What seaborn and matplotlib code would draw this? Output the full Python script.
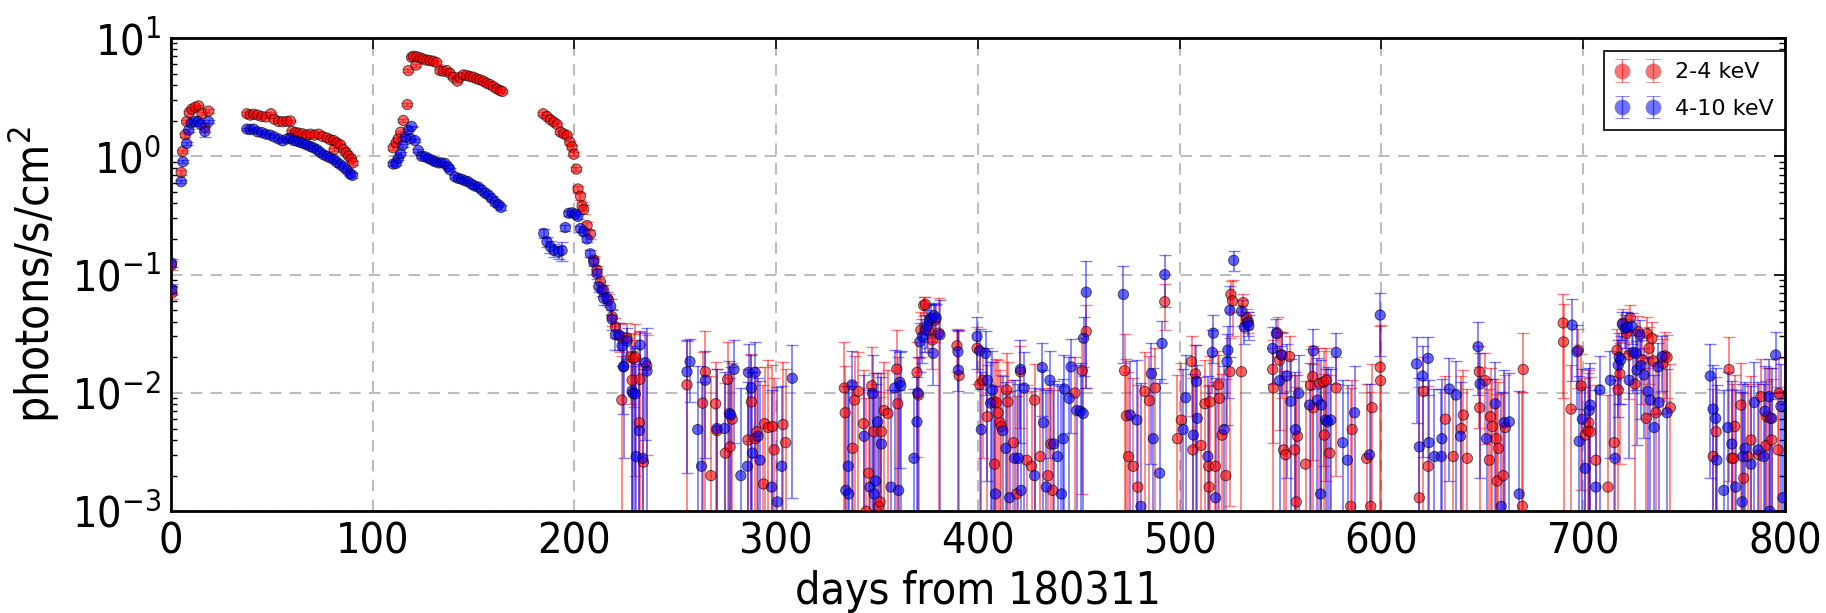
import numpy as np
import pandas as pd
import matplotlib
matplotlib.use("Agg")
import matplotlib.pyplot as plt
from matplotlib.font_manager import FontProperties
import seaborn as sns

# ---------------- 2-4 keV band ----------------
soft_days = [
    # first outburst
    0.3, 0.5, 5.1, 5.8, 7.1, 7.8, 9.1, 10.4, 12.1, 13.7, 15.4, 16.8, 18.7,
    # second outburst
    37.7, 39.3, 41.0, 43.0, 45.0, 47.0, 49.6, 51.2, 53.4, 55.4,
    57.5, 59.2, 60.0, 61.7, 63.3, 65.3, 67.4, 69.1, 71.2, 73.2,
    75.2, 77.4, 79.0, 80.7, 80.9, 82.3, 84.0, 85.6, 86.9, 88.1,
    89.4, 90.2,
    # third outburst
    110.2, 111.6, 112.7, 113.9, 115.2, 117.2, 117.7, 119.3, 120.2, 121.5,
    121.8, 123.5, 125.1, 126.8, 128.4, 130.1, 131.7, 133.4, 135.0, 136.7,
    138.3, 140.0, 142.0, 143.3, 145.0, 146.6, 148.3, 149.9, 151.6, 153.2,
    154.9, 156.5, 158.2, 159.8, 161.5, 163.1, 164.3,
    # fourth outburst and decay
    184.5, 186.4, 188.1, 189.8, 191.4, 193.1, 194.7, 196.4, 197.7, 198.8,
    199.7, 201.0, 201.8, 203.0, 203.8, 204.6, 206.3, 207.9, 209.6, 211.2,
    212.9, 214.5, 217.0, 218.7, 220.3, 222.8, 223.5, 226.1, 227.8, 228.6,
    229.3, 230.2, 232.2, 232.4, 234.2, 235.9,
    # faint episodes
    255.8, 263.6, 264.9, 267.7, 270.0, 270.6, 274.8, 275.9, 277.2, 278.2,
    286.0, 287.7, 289.6, 290.5, 293.7, 294.3, 296.2, 298.1, 299.0, 303.4, 304.7,
    333.8, 334.2, 337.9, 338.9, 340.8, 343.3, 344.6, 345.9, 347.4, 348.4,
    350.9, 351.5, 352.2, 353.5, 355.4, 359.8, 360.3,
    369.8, 370.6, 371.7, 373.1, 374.0, 375.5, 377.4, 378.7, 380.6, 389.6, 390.7,
    399.6, 400.9, 402.5, 404.7, 407.8, 408.2, 409.1, 410.0, 411.0, 411.6,
    414.2, 414.8, 417.6, 419.2, 421.1, 424.2, 426.6, 428.1, 430.9, 434.7,
    436.2, 437.0, 448.1, 451.8, 453.7,
    472.7, 473.6, 474.6, 477.0, 479.3, 482.7, 485.0, 487.9, 492.6,
    498.9, 500.8, 505.9, 506.5, 507.8, 510.6, 512.5, 514.4, 514.6, 515.0,
    517.7, 519.2, 519.7, 521.0, 522.9, 524.9, 525.4, 526.2, 530.6, 531.5,
    533.3, 534.0,
    546.1, 546.5, 548.5, 549.5, 550.5, 551.5, 552.5, 554.5, 557.0, 557.8,
    558.4, 562.4, 564.9, 565.9, 566.3, 569.3, 571.3, 571.7, 572.6, 574.3,
    577.6, 584.8, 585.5, 592.7, 594.7, 595.4, 599.4, 599.6,
    618.8, 620.8, 623.2, 631.7, 635.6, 639.6, 640.6, 642.6, 648.5, 648.7,
    651.5, 653.5, 654.1, 655.0, 656.8, 657.4, 658.0, 660.4, 661.4, 669.9, 670.3,
    690.1, 690.3, 694.0, 697.6, 699.0, 701.0, 702.4, 702.8, 703.6, 706.3,
    712.3, 715.4, 716.8, 717.4, 718.2, 719.8, 721.4, 722.8, 723.4, 725.7,
    727.3, 729.3, 731.3, 731.7, 732.7, 734.1, 734.7, 736.0, 739.6, 740.6,
    741.6, 743.2,
    764.4, 765.9, 772.3, 773.7, 774.5, 775.2, 778.2, 779.6, 781.6, 783.2,
    787.1, 788.1, 790.7, 791.1, 792.8, 793.5, 796.6, 797.0,
]
soft_flux = [
    0.12, 0.07, 0.73, 1.10, 1.52, 1.97, 2.35, 2.51, 2.60, 2.67, 2.29, 1.75, 2.41,
    2.29, 2.23, 2.27, 2.23, 2.17, 2.15, 2.29, 2.06, 1.97, 1.96,
    1.97, 1.99, 1.62, 1.59, 1.57, 1.55, 1.51, 1.54, 1.51, 1.54,
    1.47, 1.43, 1.38, 1.36, 1.14, 1.30, 1.25, 1.14, 1.07, 1.01,
    0.95, 0.88,
    1.18, 1.30, 1.41, 1.60, 2.01, 2.74, 5.30, 6.87, 7.00, 5.90,
    6.95, 6.80, 6.64, 6.50, 6.44, 6.36, 6.20, 5.30, 5.24, 5.30,
    5.03, 4.66, 4.32, 4.66, 4.88, 4.82, 4.72, 4.66, 4.52, 4.43,
    4.32, 4.15, 4.04, 3.89, 3.72, 3.60, 3.53,
    2.29, 2.17, 2.04, 1.95, 1.86, 1.60, 1.55, 1.50, 1.32, 1.20,
    1.04, 0.78, 0.53, 0.46, 0.38, 0.355, 0.26, 0.22, 0.133, 0.109,
    0.087, 0.074, 0.061, 0.044, 0.036, 0.030, 0.0087, 0.029, 0.020, 0.0128,
    0.0196, 0.020, 0.0056, 0.013, 0.0026, 0.017,
    0.0117, 0.0082, 0.0151, 0.0020, 0.0081, 0.0048, 0.0031, 0.0130, 0.0035, 0.0060,
    0.0040, 0.0084, 0.0041, 0.0047, 0.0017, 0.0055, 0.0051, 0.0052, 0.0033, 0.0054, 0.0038,
    0.0110, 0.0068, 0.0034, 0.0087, 0.0103, 0.0055, 0.0010, 0.0021, 0.0115, 0.0047,
    0.0011, 0.0012, 0.0047, 0.0071, 0.0067, 0.0159, 0.0081,
    0.0149, 0.0096, 0.034, 0.055, 0.056, 0.034, 0.028, 0.041, 0.032, 0.025, 0.014,
    0.0238, 0.0118, 0.0128, 0.0063, 0.0084, 0.0025, 0.0083, 0.0068, 0.0056, 0.0052,
    0.0106, 0.0084, 0.0038, 0.0014, 0.0151, 0.0027, 0.0024, 0.0087, 0.0029, 0.0020,
    0.0037, 0.0015, 0.0100, 0.0154, 0.0330,
    0.0154, 0.0064, 0.0029, 0.0024, 0.0016, 0.0103, 0.0086, 0.0110, 0.059,
    0.0041, 0.0059, 0.0184, 0.0033, 0.0145, 0.0036, 0.0081, 0.0024, 0.0016, 0.0084,
    0.0024, 0.0117, 0.0090, 0.0044, 0.0020, 0.0151, 0.068, 0.060, 0.0151, 0.058,
    0.043, 0.040,
    0.0158, 0.0110, 0.0320, 0.0189, 0.0210, 0.0033, 0.0030, 0.0203, 0.0033, 0.0012,
    0.0043, 0.0025, 0.0116, 0.0137, 0.0075, 0.0120, 0.0124, 0.0044, 0.0128, 0.0031,
    0.0110, 0.0011, 0.0049, 0.0028, 0.0011, 0.0075, 0.0165, 0.0127,
    0.0013, 0.0103, 0.0024, 0.0060, 0.0029, 0.0050, 0.0065, 0.0028, 0.0151, 0.0075,
    0.0127, 0.0027, 0.0063, 0.0052, 0.0041, 0.0018, 0.0034, 0.0020, 0.0051, 0.0011, 0.0158,
    0.039, 0.027, 0.0073, 0.023, 0.0115, 0.0044, 0.0048, 0.0056, 0.0047, 0.0027,
    0.0016, 0.0038, 0.023, 0.0106, 0.0145, 0.039, 0.0318, 0.0209, 0.043, 0.0119,
    0.033, 0.019, 0.0061, 0.0318, 0.0238, 0.029, 0.0187, 0.0068, 0.0178, 0.0206,
    0.020, 0.0075,
    0.0029, 0.0047, 0.0158, 0.0028, 0.0028, 0.0052, 0.0079, 0.0019, 0.0029, 0.0040,
    0.0030, 0.0093, 0.0036, 0.0063, 0.0061, 0.0040, 0.0033, 0.0099,
]
soft_err = [
    0.010, 0.008, 0.03, 0.04, 0.05, 0.05, 0.06, 0.07, 0.07, 0.07, 0.06, 0.15, 0.08,
    0.06, 0.06, 0.06, 0.06, 0.06, 0.06, 0.06, 0.06, 0.05, 0.05,
    0.05, 0.05, 0.05, 0.05, 0.05, 0.05, 0.05, 0.05, 0.05, 0.05,
    0.05, 0.05, 0.04, 0.04, 0.04, 0.04, 0.04, 0.04, 0.04, 0.04,
    0.04, 0.04,
    0.04, 0.04, 0.05, 0.05, 0.06, 0.08, 0.15, 0.20, 0.20, 0.18,
    0.20, 0.20, 0.20, 0.20, 0.20, 0.20, 0.20, 0.20, 0.20, 0.20,
    0.15, 0.15, 0.15, 0.15, 0.15, 0.15, 0.15, 0.15, 0.15, 0.15,
    0.12, 0.12, 0.12, 0.12, 0.12, 0.12, 0.12,
    0.06, 0.06, 0.06, 0.05, 0.05, 0.05, 0.05, 0.05, 0.04, 0.04,
    0.04, 0.03, 0.03, 0.03, 0.03, 0.03, 0.02, 0.02, 0.012, 0.010,
    0.010, 0.008, 0.008, 0.007, 0.007, 0.008, 0.012, 0.010, 0.012, 0.015,
    0.012, 0.018, 0.012, 0.020, 0.012, 0.014,
    0.016, 0.014, 0.018, 0.012, 0.010, 0.011, 0.009, 0.014, 0.010, 0.012,
    0.012, 0.013, 0.011, 0.012, 0.010, 0.011, 0.014, 0.012, 0.010, 0.013, 0.012,
    0.016, 0.010, 0.009, 0.012, 0.012, 0.010, 0.008, 0.009, 0.013, 0.010,
    0.009, 0.008, 0.010, 0.011, 0.009, 0.018, 0.012,
    0.012, 0.010, 0.014, 0.010, 0.009, 0.012, 0.012, 0.014, 0.031, 0.010, 0.020,
    0.012, 0.012, 0.010, 0.011, 0.010, 0.009, 0.011, 0.012, 0.010, 0.009,
    0.011, 0.010, 0.009, 0.008, 0.010, 0.009, 0.008, 0.009, 0.008, 0.009,
    0.008, 0.009, 0.010, 0.014, 0.022,
    0.016, 0.013, 0.012, 0.011, 0.010, 0.012, 0.012, 0.013, 0.025,
    0.010, 0.012, 0.012, 0.010, 0.011, 0.010, 0.011, 0.009, 0.010, 0.012,
    0.010, 0.011, 0.012, 0.010, 0.011, 0.014, 0.020, 0.030, 0.040, 0.010,
    0.008, 0.008,
    0.012, 0.013, 0.012, 0.014, 0.012, 0.012, 0.011, 0.010, 0.011, 0.010,
    0.010, 0.010, 0.012, 0.011, 0.010, 0.012, 0.010, 0.010, 0.011, 0.011,
    0.009, 0.010, 0.008, 0.009, 0.009, 0.010, 0.020, 0.025,
    0.010, 0.010, 0.009, 0.008, 0.008, 0.009, 0.009, 0.008, 0.010, 0.009,
    0.009, 0.008, 0.010, 0.008, 0.009, 0.008, 0.009, 0.008, 0.009, 0.009, 0.016,
    0.030, 0.030, 0.010, 0.012, 0.010, 0.009, 0.010, 0.010, 0.009, 0.009,
    0.008, 0.010, 0.012, 0.011, 0.012, 0.012, 0.010, 0.012, 0.012, 0.011,
    0.012, 0.011, 0.010, 0.012, 0.012, 0.011, 0.012, 0.010, 0.011, 0.012,
    0.011, 0.010,
    0.008, 0.009, 0.014, 0.008, 0.009, 0.009, 0.010, 0.008, 0.009, 0.010,
    0.009, 0.010, 0.009, 0.010, 0.010, 0.009, 0.008, 0.010,
]

# ---------------- 4-10 keV band ----------------
hard_days = [
    0.3, 0.5, 5.1, 6.0, 7.8, 8.8, 10.1, 11.7, 13.4, 14.7, 16.8, 18.7,
    37.7, 39.3, 41.0, 43.0, 45.0, 47.0, 49.3, 51.2, 53.4, 55.4,
    57.5, 59.2, 60.8, 62.5, 64.1, 65.8, 67.4, 69.1, 70.7, 72.4,
    74.0, 75.7, 77.4, 79.0, 80.7, 82.3, 84.0, 85.6, 87.3, 88.9,
    90.0,
    110.2, 111.6, 112.7, 113.9, 114.9, 116.2, 117.7, 118.8, 119.3, 121.0,
    122.6, 124.3, 126.0, 127.6, 129.3, 130.9, 132.6, 134.2, 135.9, 137.5,
    138.3, 140.8, 142.5, 144.1, 145.8, 147.4, 149.1, 150.7, 152.4, 154.0,
    155.7, 157.4, 159.0, 160.7, 162.3, 163.6,
    184.8, 186.4, 188.1, 189.8, 192.2, 193.9, 195.5, 197.2, 198.8, 200.5,
    201.7, 203.0, 204.6, 206.3, 207.9, 209.6, 211.2, 212.1, 213.7, 214.5,
    216.2, 218.0, 218.7, 220.3, 222.0, 223.6, 224.3, 224.5, 226.1, 228.6,
    229.0, 230.2, 230.6, 232.2, 232.6, 233.9, 235.2, 236.0,
    255.8, 257.3, 261.1, 263.0, 264.9, 270.6, 274.4, 276.8, 277.5, 279.1,
    282.5, 285.8, 286.3, 287.7, 288.2, 289.6, 291.0, 292.0, 297.7, 300.6,
    302.8, 308.0,
    334.5, 335.7, 336.0, 337.6, 343.6, 346.5, 347.8, 348.6, 349.3, 350.3,
    352.2, 356.9, 358.8, 360.7, 361.3, 361.8,
    368.3, 369.8, 370.2, 371.2, 372.5, 374.0, 375.0, 375.9, 376.9, 377.8,
    378.2, 379.3, 381.2, 390.1, 390.3,
    399.6, 400.9, 401.7, 403.8, 404.7, 406.3, 407.2, 408.7, 412.3, 413.9,
    415.7, 418.2, 420.1, 421.1, 421.4, 422.9, 428.1, 431.9, 432.5, 433.9,
    435.7, 437.6, 439.5, 441.4, 442.3, 442.9, 445.2, 446.2, 449.0, 450.9,
    452.2, 452.4, 453.7,
    472.1, 475.5, 478.8, 480.8, 486.0, 486.9, 490.1, 491.3, 492.6,
    501.7, 503.0, 506.8, 508.3, 508.7, 514.0, 516.2, 516.7, 517.8, 522.0,
    523.5, 523.9, 524.9, 526.8, 530.7, 532.1, 533.7, 534.3,
    546.1, 547.9, 549.5, 550.5, 553.1, 555.1, 557.4, 559.0, 564.4, 566.3,
    568.3, 569.9, 570.3, 572.3, 573.3, 574.9, 577.6, 580.8, 583.2, 586.7,
    594.1, 599.4,
    617.4, 618.8, 620.4, 623.2, 623.6, 626.3, 629.7, 630.0, 633.7, 637.0,
    639.2, 647.9, 648.9, 652.1, 656.4, 659.4, 660.8, 663.4, 668.3,
    694.5, 697.0, 698.0, 699.6, 701.0, 703.0, 703.6, 706.3, 708.3, 713.5,
    715.8, 717.4, 717.8, 718.6, 719.4, 720.8, 721.8, 722.8, 724.2, 724.8,
    726.1, 726.7, 728.1, 728.7, 730.1, 732.1, 733.3, 735.2, 737.2, 737.6,
    739.2, 741.6,
    763.0, 764.4, 765.7, 766.3, 769.7, 771.7, 773.7, 775.6, 778.8, 779.2,
    780.2, 783.2, 784.8, 786.7, 789.5, 790.1, 792.1, 792.5, 793.5, 795.4,
    798.0, 799.0,
]
hard_flux = [
    0.125, 0.075, 0.61, 0.90, 1.28, 1.66, 1.91, 1.97, 1.97, 1.85, 1.62, 1.97,
    1.70, 1.68, 1.70, 1.61, 1.59, 1.54, 1.51, 1.46, 1.40, 1.35,
    1.40, 1.42, 1.36, 1.34, 1.31, 1.28, 1.25, 1.21, 1.18, 1.14,
    1.08, 1.03, 1.00, 0.97, 0.94, 0.89, 0.85, 0.81, 0.76, 0.71,
    0.69,
    0.86, 0.87, 0.96, 1.05, 1.24, 1.45, 1.66, 1.41, 1.79, 1.36,
    1.12, 1.00, 0.99, 0.96, 0.93, 0.90, 0.88, 0.88, 0.87, 0.81,
    0.77, 0.67, 0.65, 0.64, 0.62, 0.61, 0.58, 0.56, 0.55, 0.52,
    0.49, 0.47, 0.44, 0.41, 0.39, 0.37,
    0.223, 0.19, 0.172, 0.16, 0.156, 0.16, 0.25, 0.33, 0.333, 0.325,
    0.31, 0.245, 0.23, 0.20, 0.15, 0.128, 0.102, 0.079, 0.074, 0.063,
    0.063, 0.054, 0.042, 0.031, 0.031, 0.025, 0.0166, 0.0168, 0.0275, 0.0104,
    0.0099, 0.0098, 0.0029, 0.0048, 0.0254, 0.0028, 0.018, 0.0153,
    0.0151, 0.0184, 0.0049, 0.0024, 0.0128, 0.0050, 0.0050, 0.0067, 0.0065, 0.0158,
    0.0020, 0.0024, 0.0149, 0.0110, 0.0031, 0.0149, 0.0043, 0.0027, 0.0016, 0.0012,
    0.0024, 0.0133,
    0.0015, 0.0024, 0.0014, 0.0117, 0.0043, 0.0016, 0.0099, 0.0014, 0.0018, 0.0057,
    0.0037, 0.0016, 0.0110, 0.0015, 0.0123, 0.0115,
    0.0028, 0.0057, 0.0100, 0.027, 0.030, 0.034, 0.037, 0.041, 0.043, 0.0216,
    0.045, 0.043, 0.031, 0.0223, 0.0156,
    0.030, 0.0227, 0.0049, 0.0216, 0.0128, 0.0082, 0.0106, 0.0014, 0.0048, 0.0034,
    0.0013, 0.0028, 0.0028, 0.0158, 0.0015, 0.0110, 0.0020, 0.0164, 0.0056, 0.0016,
    0.0128, 0.0037, 0.0029, 0.0014, 0.0041, 0.0108, 0.0090, 0.0166, 0.0071, 0.0070,
    0.0067, 0.029, 0.071,
    0.068, 0.0065, 0.0059, 0.0011, 0.0145, 0.0041, 0.0021, 0.0262, 0.100,
    0.0049, 0.0091, 0.0044, 0.0125, 0.0061, 0.0029, 0.022, 0.032, 0.0013, 0.0049,
    0.0184, 0.023, 0.050, 0.132, 0.049, 0.036, 0.039, 0.037,
    0.0238, 0.0318, 0.0127, 0.0209, 0.0139, 0.0085, 0.0049, 0.0099, 0.0079, 0.0227,
    0.0087, 0.0014, 0.0079, 0.0059, 0.0057, 0.0059, 0.0220, 0.0038, 0.0027, 0.0068,
    0.0030, 0.0455,
    0.0176, 0.0035, 0.0139, 0.0196, 0.0038, 0.0029, 0.0029, 0.0041, 0.0108, 0.0096,
    0.0043, 0.0246, 0.0119, 0.0041, 0.0081, 0.0011, 0.0056, 0.0057, 0.0014,
    0.0375, 0.0223, 0.0039, 0.0060, 0.0023, 0.0071, 0.0079, 0.0016, 0.0106, 0.0128,
    0.0028, 0.0172, 0.0200, 0.0190, 0.0380, 0.0350, 0.0360, 0.0128, 0.0367, 0.0220,
    0.0216, 0.0156, 0.0310, 0.0170, 0.0142, 0.0103, 0.0087, 0.0051, 0.0166, 0.0083,
    0.0203, 0.0068,
    0.0139, 0.0073, 0.0061, 0.0027, 0.0015, 0.0051, 0.0037, 0.0016, 0.0012, 0.0029,
    0.0034, 0.0025, 0.0083, 0.0033, 0.0029, 0.0070, 0.0093, 0.0010, 0.0061, 0.0209,
    0.0077, 0.0013,
]
hard_err = [
    0.010, 0.008, 0.02, 0.03, 0.04, 0.05, 0.05, 0.05, 0.05, 0.05, 0.15, 0.06,
    0.04, 0.04, 0.04, 0.04, 0.04, 0.04, 0.04, 0.04, 0.04, 0.04,
    0.04, 0.04, 0.04, 0.04, 0.04, 0.04, 0.04, 0.04, 0.04, 0.04,
    0.03, 0.03, 0.03, 0.03, 0.03, 0.03, 0.03, 0.03, 0.03, 0.03,
    0.03,
    0.03, 0.03, 0.03, 0.03, 0.03, 0.03, 0.03, 0.03, 0.03, 0.03,
    0.03, 0.03, 0.03, 0.03, 0.03, 0.03, 0.03, 0.03, 0.03, 0.03,
    0.02, 0.02, 0.02, 0.02, 0.02, 0.02, 0.02, 0.02, 0.02, 0.02,
    0.02, 0.02, 0.02, 0.02, 0.02, 0.02,
    0.020, 0.020, 0.020, 0.020, 0.020, 0.030, 0.015, 0.015, 0.015, 0.015,
    0.015, 0.015, 0.015, 0.012, 0.010, 0.010, 0.010, 0.008, 0.008, 0.008,
    0.008, 0.008, 0.008, 0.008, 0.008, 0.008, 0.010, 0.014, 0.008, 0.012,
    0.015, 0.014, 0.014, 0.015, 0.008, 0.013, 0.014, 0.020,
    0.013, 0.010, 0.012, 0.010, 0.010, 0.011, 0.010, 0.012, 0.010, 0.012,
    0.009, 0.010, 0.011, 0.010, 0.012, 0.012, 0.009, 0.010, 0.009, 0.010,
    0.009, 0.012,
    0.010, 0.009, 0.010, 0.011, 0.010, 0.009, 0.011, 0.009, 0.010, 0.009,
    0.010, 0.009, 0.012, 0.009, 0.010, 0.011,
    0.008, 0.008, 0.010, 0.012, 0.012, 0.012, 0.013, 0.014, 0.014, 0.010,
    0.013, 0.013, 0.030, 0.012, 0.018,
    0.014, 0.012, 0.010, 0.012, 0.011, 0.010, 0.012, 0.010, 0.009, 0.009,
    0.009, 0.010, 0.009, 0.012, 0.009, 0.011, 0.009, 0.010, 0.010, 0.009,
    0.010, 0.009, 0.009, 0.010, 0.009, 0.010, 0.011, 0.012, 0.010, 0.011,
    0.010, 0.015, 0.060,
    0.050, 0.012, 0.013, 0.011, 0.012, 0.012, 0.011, 0.014, 0.047,
    0.011, 0.012, 0.010, 0.013, 0.011, 0.011, 0.012, 0.014, 0.012, 0.012,
    0.013, 0.014, 0.030, 0.025, 0.012, 0.010, 0.009, 0.009,
    0.012, 0.010, 0.012, 0.011, 0.012, 0.011, 0.010, 0.011, 0.010, 0.012,
    0.011, 0.010, 0.011, 0.010, 0.011, 0.010, 0.010, 0.009, 0.009, 0.010,
    0.009, 0.025,
    0.012, 0.010, 0.011, 0.010, 0.009, 0.008, 0.008, 0.009, 0.009, 0.009,
    0.008, 0.015, 0.010, 0.009, 0.010, 0.009, 0.010, 0.009, 0.009,
    0.025, 0.015, 0.010, 0.010, 0.009, 0.009, 0.010, 0.009, 0.010, 0.010,
    0.010, 0.011, 0.012, 0.011, 0.010, 0.011, 0.012, 0.010, 0.011, 0.012,
    0.011, 0.012, 0.010, 0.011, 0.010, 0.010, 0.011, 0.009, 0.010, 0.010,
    0.010, 0.009,
    0.012, 0.010, 0.010, 0.009, 0.009, 0.010, 0.009, 0.009, 0.009, 0.009,
    0.009, 0.009, 0.010, 0.009, 0.009, 0.010, 0.010, 0.009, 0.010, 0.012,
    0.010, 0.009,
]

band_labels = ["2-4 keV", "4-10 keV"]
band_colors = {"2-4 keV": "red", "4-10 keV": "blue"}
x_ticks = [0, 100, 200, 300, 400, 500, 600, 700, 800]

sns.set_style("white")
plt.rcParams["font.family"] = ["DejaVu Sans"]
plt.rcParams["font.stretch"] = "condensed"
plt.rcParams["mathtext.fontset"] = "dejavusans"
for key in ("text.color", "axes.labelcolor", "xtick.color", "ytick.color",
            "axes.edgecolor"):
    plt.rcParams[key] = "black"

frames = []
for lab, d, f, e in [(band_labels[0], soft_days, soft_flux, soft_err),
                     (band_labels[1], hard_days, hard_flux, hard_err)]:
    frames.append(pd.DataFrame({"day": d, "flux": f, "err": e, "band": lab}))
df = pd.concat(frames, ignore_index=True)

fig = plt.figure(figsize=(18.26, 6.13), dpi=100)
ax = fig.add_axes([0.0936, 0.166, 0.8839, 0.772])
ax.set_yscale("log", nonpositive="clip")

# error bars first, markers on top
for lab in band_labels:
    sub = df[df["band"] == lab]
    ax.errorbar(sub["day"], sub["flux"], yerr=sub["err"], fmt="none",
                ecolor=band_colors[lab], elinewidth=1.3, capsize=4,
                capthick=1.0, alpha=0.5, zorder=2)

sns.scatterplot(data=df, x="day", y="flux", hue="band", palette=band_colors,
                hue_order=band_labels, s=55, alpha=0.6, edgecolor="black",
                linewidth=0.7, legend=False, ax=ax, zorder=3)

# legend entries in the errorbar style, two points each
handles = []
for lab in band_labels:
    h = ax.errorbar([np.nan], [np.nan], yerr=[np.nan], fmt="o",
                    color=band_colors[lab], ecolor=band_colors[lab],
                    markersize=11, markeredgecolor="gray",
                    markeredgewidth=0.6, capsize=5, elinewidth=1.0,
                    alpha=0.55, label=lab)
    handles.append(h)
legend_font = FontProperties(family="DejaVu Sans", stretch="normal", size=16)
leg = ax.legend(handles=handles, labels=band_labels, loc="upper right",
                bbox_to_anchor=(1.0, 0.972), borderaxespad=0.0, numpoints=2,
                prop=legend_font, frameon=True, fancybox=False, framealpha=1.0,
                handlelength=2.0, borderpad=0.5, labelspacing=0.75,
                handletextpad=0.7)
leg.get_frame().set_edgecolor("black")
leg.get_frame().set_linewidth(1.2)

ax.set_xlim(0, 800)
ax.set_ylim(1e-3, 10)
ax.set_xticks(x_ticks)
ax.set_xticklabels([str(t) for t in x_ticks])

ax.grid(True, which="major", color="#bdbdbd", linestyle=(0, (5.5, 4)),
        linewidth=1.5)
ax.set_axisbelow(True)

ax.tick_params(axis="both", which="major", direction="in", length=8, width=1.2,
               top=True, right=True, labelsize=31, pad=7)
ax.tick_params(axis="y", which="minor", direction="in", length=4, width=1.0,
               left=True, right=True)
ax.tick_params(axis="x", which="minor", bottom=False, top=False)
for sp in ax.spines.values():
    sp.set_linewidth(2.0)
    sp.set_color("black")

ax.set_xlabel("days from 180311", fontsize=32, labelpad=5)
ax.set_ylabel("photons/s/cm$^2$", fontsize=33, labelpad=8)

fig.savefig("out.png", dpi=100)
